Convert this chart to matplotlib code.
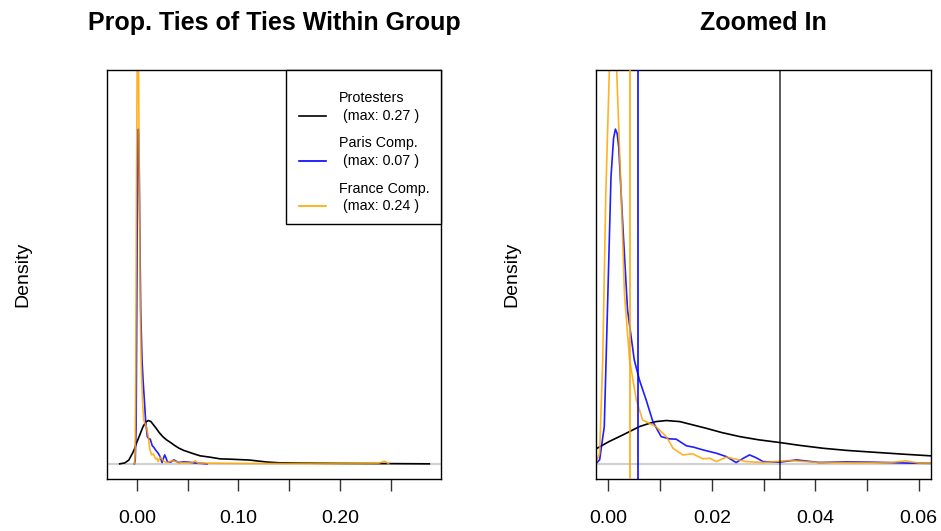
import matplotlib
matplotlib.use('Agg')
import matplotlib.pyplot as plt
from matplotlib.patches import Rectangle

plt.rcParams['font.family'] = ['Liberation Sans', 'DejaVu Sans']

# ---------------- data ----------------
prot_x = [-0.0170, -0.0120, -0.0080, -0.0040, -0.0025, 0.0000, 0.0028, 0.0060,
          0.0080, 0.0092, 0.0112, 0.0138, 0.0160, 0.0189, 0.0220, 0.0254, 0.0290,
          0.0331, 0.0370, 0.0415, 0.0460, 0.0512, 0.0570, 0.0623, 0.0720, 0.0820,
          0.0950, 0.1110, 0.1200, 0.1280, 0.1400, 0.1600, 0.2000, 0.2400, 0.2880]
prot_y = [0.0, 0.6, 2.5, 7.5, 9.7, 14.5, 19.1, 24.6,
          26.8, 27.9, 28.6, 27.9, 26.0, 23.5, 20.6, 18.0, 15.9,
          14.1, 12.2, 10.3, 8.9, 7.7, 6.4, 5.3, 4.4, 3.3,
          3.0, 2.5, 1.8, 1.2, 0.7, 0.5, 0.3, 0.2, 0.0]

paris_x = [-0.0025, -0.0017, -0.0008, -0.0001, 0.0005, 0.0010, 0.00136, 0.0017,
           0.0020, 0.0028, 0.0037, 0.0050, 0.0060, 0.0073, 0.0086, 0.0102, 0.0118,
           0.0131, 0.0151, 0.0165, 0.0183, 0.0209, 0.0228, 0.0247, 0.0260, 0.0273,
           0.0286, 0.0299, 0.0331, 0.0364, 0.0408, 0.0460, 0.0512, 0.0580, 0.0640,
           0.0690]
paris_y = [0.0, 2.6, 24.6, 112.6, 189.5, 215.0, 221.0, 218.0,
           209.0, 156.5, 101.6, 68.6, 55.4, 42.2, 27.9, 18.0, 16.5,
           16.3, 11.9, 11.0, 9.2, 7.0, 4.8, 0.9, 3.5, 5.9,
           4.0, 1.5, 1.1, 2.6, 0.9, 1.3, 1.1, 0.5, 0.3,
           0.0]

france_x = [-0.0025, -0.0017, -0.0011, -0.0005, 0.0002, 0.0006, 0.0009, 0.0012,
            0.0016, 0.00246, 0.0031, 0.0041, 0.0054, 0.0066, 0.0079, 0.0092, 0.0112,
            0.0125, 0.0144, 0.0163, 0.0183, 0.0196, 0.0209, 0.0228, 0.0247, 0.0266,
            0.0299, 0.0350, 0.0408, 0.0480, 0.0545, 0.0575, 0.0600, 0.0700, 0.1000,
            0.1500, 0.2000, 0.2380, 0.2440, 0.2480]
france_y = [0.0, 7.0, 68.6, 178.7, 262.0, 320.0, 335.0, 315.0,
            260.0, 178.6, 112.6, 68.6, 42.2, 29.0, 26.8, 24.6, 18.0,
            10.3, 5.9, 6.6, 3.3, 3.7, 1.5, 4.4, 3.1, 1.5,
            0.9, 2.2, 0.9, 0.7, 0.8, 2.0, 0.5, 0.5, 0.3,
            0.2, 0.2, 0.4, 1.8, 0.0]

series_names = ['Protesters', 'Paris Comp.', 'France Comp.']
series_max = ['0.27', '0.07', '0.24']
series_means = [0.0331, 0.0057, 0.0041]
series_colors = ['black', 'blue', 'orange']

left_ticks = [0.00, 0.05, 0.10, 0.15, 0.20, 0.25]
left_labels = ['0.00', '', '0.10', '', '0.20', '']
right_ticks = [0.00, 0.01, 0.02, 0.03, 0.04, 0.05, 0.06]
right_labels = ['0.00', '', '0.02', '', '0.04', '', '0.06']

titles = ['Prop. Ties of Ties Within Group', 'Zoomed In']
ylabel = 'Density'

# ---------------- figure ----------------
W, H = 941, 531
fig = plt.figure(figsize=(W / 100, H / 100), dpi=100)


def axrect(l, t, r, b):
    return [l / W, 1 - b / H, (r - l) / W, (b - t) / H]


ax1 = fig.add_axes(axrect(107, 70, 441, 479))
ax2 = fig.add_axes(axrect(596, 70, 931, 479))

xs = [prot_x, paris_x, france_x]
ys = [prot_y, paris_y, france_y]
alphas = [1.0, 0.88, 0.85]

for ax in (ax1, ax2):
    ax.axhline(0, color='#d0d0d0', lw=1.5, zorder=1)
    for x, y, c, a in zip(xs, ys, series_colors, alphas):
        ax.plot(x, y, color=c, lw=1.2, alpha=a, zorder=2)
    ax.set_ylim(-10, 260)
    ax.set_yticks([])
    for s in ax.spines.values():
        s.set_linewidth(1.0)
        s.set_color('black')
    ax.tick_params(axis='x', direction='out', length=8.6, width=1.0,
                   labelsize=14, pad=14, color='#333333')

for m, c in zip(series_means, series_colors):
    ax2.axvline(m, color=c, lw=1.2, alpha=0.75 if c == 'black' else 0.95, zorder=3)

ax1.set_xlim(-0.0295, 0.2995)
ax1.set_xticks(left_ticks)
ax1.set_xticklabels(left_labels)
ax2.set_xlim(-0.0024, 0.0624)
ax2.set_xticks(right_ticks)
ax2.set_xticklabels(right_labels)

for ax, t in zip((ax1, ax2), titles):
    ax.set_title(t, fontsize=18, fontweight='bold', pad=29)

for xb in (27, 27 + 489):
    fig.text(xb / W, 1 - 274.5 / H, ylabel, rotation=90, rotation_mode='anchor',
             ha='center', va='baseline', fontsize=14)

# ---------------- legend (left panel) ----------------
axw, axh = 334.0, 409.0
bx0 = (286 - 107) / axw
by0 = (479 - 224) / axh
ax1.add_patch(Rectangle((bx0, by0), 1 - bx0, 1 - by0, transform=ax1.transAxes,
                        facecolor='white', edgecolor='black', lw=1.0,
                        zorder=5, clip_on=False))
for i, (name, mx, c) in enumerate(zip(series_names, series_max, series_colors)):
    label = f'{name}\n (max: {mx} )'
    l1, l2 = label.split('\n')
    yseg = (479 - (115.7 + 45.2 * i)) / axh
    ax1.plot([(299 - 107) / axw, (326 - 107) / axw], [yseg, yseg],
             transform=ax1.transAxes, color=c, lw=1.2, zorder=6, clip_on=False)
    yt1 = (479 - (97.7 + 45.8 * i)) / axh
    yt2 = (479 - (116.0 + 45.1 * i)) / axh
    ax1.text((339 - 107) / axw, yt1, l1, transform=ax1.transAxes,
             fontsize=10.3, va='center', ha='left', zorder=7)
    ax1.text((339 - 107) / axw, yt2, l2, transform=ax1.transAxes,
             fontsize=10.3, va='center', ha='left', zorder=7)

fig.savefig('out.png', dpi=100)
